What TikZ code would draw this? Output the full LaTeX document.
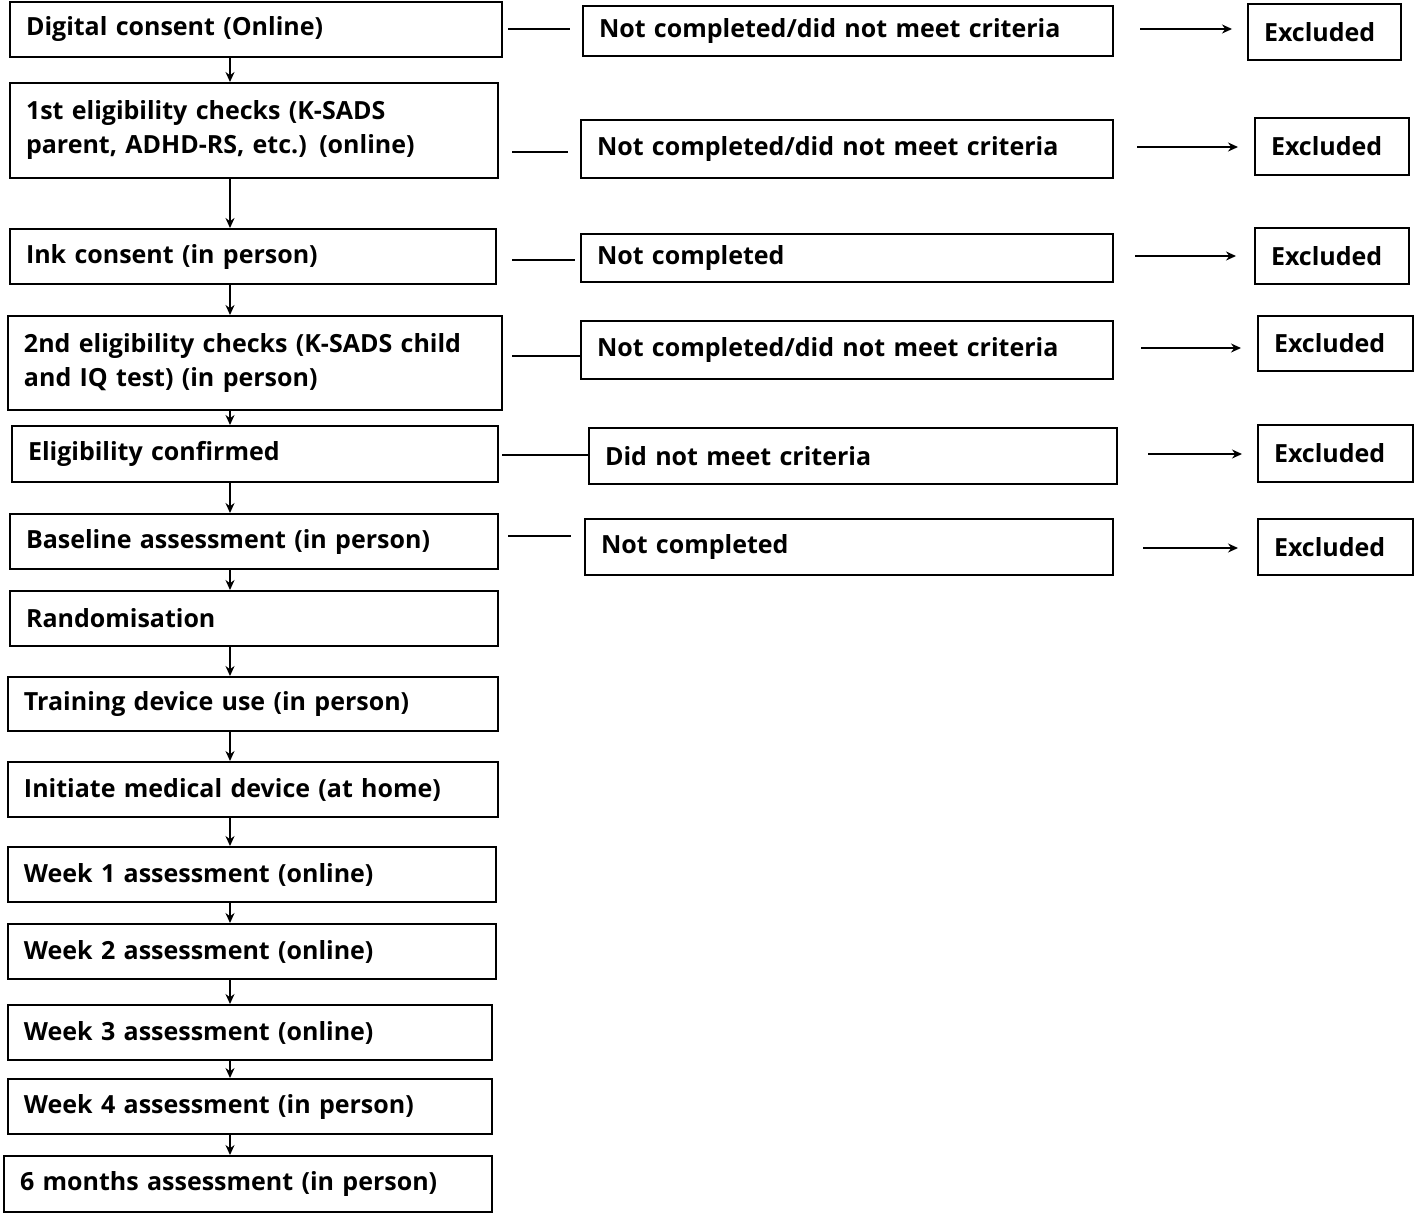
\documentclass[tikz,border=0pt]{standalone}
\usepackage{fontspec}
\setmainfont{Open Sans}
\usetikzlibrary{arrows.meta}
\tikzset{box/.style={draw,line width=1pt,inner xsep=8pt,inner ysep=0pt,align=left,font=\bfseries\fontsize{12.5}{17}\selectfont},
 conn/.style={line width=0.8pt},
 arr/.style={line width=0.8pt,-{Stealth[length=5pt,width=4.5pt]}}}
\newcommand\bx[6]{%
 \pgfmathsetmacro\bw{(#4-#2)*0.5}\pgfmathsetmacro\bh{(#5-#3)*0.5}\pgfmathsetmacro\tw{\bw-16}%
 \node[box,minimum width=\bw pt,minimum height=\bh pt,text width=\tw pt] (#1) at ({(#2+#4)/2},{(#3+#5)/2}) {#6};}
\begin{document}
\begin{tikzpicture}[x=0.5pt,y=-0.5pt]
\useasboundingbox (0,0) rectangle (1416,1216);
\bx{a1}{10}{2}{502}{57}{Digital consent (Online)}
\bx{a2}{10}{83}{498}{178}{1st eligibility checks (K-SADS\\parent, ADHD-RS, etc.) (online)}
\bx{a3}{10}{229}{496}{284}{Ink consent (in person)}
\bx{a4}{8}{316}{502}{410}{2nd eligibility checks (K-SADS child\\and IQ test) (in person)}
\bx{a5}{12}{426}{498}{482}{Eligibility confirmed}
\bx{a6}{10}{514}{498}{569}{Baseline assessment (in person)}
\bx{a7}{10}{591}{498}{646}{Randomisation}
\bx{a8}{8}{677}{498}{731}{Training device use (in person)}
\bx{a9}{8}{762}{498}{817}{Initiate medical device (at home)}
\bx{a10}{8}{847}{496}{902}{Week 1 assessment (online)}
\bx{a11}{8}{924}{496}{979}{Week 2 assessment (online)}
\bx{a12}{8}{1005}{492}{1060}{Week 3 assessment (online)}
\bx{a13}{8}{1079}{492}{1134}{Week 4 assessment (in person)}
\bx{a14}{4}{1156}{492}{1212}{6 months assessment (in person)}
\foreach \i/\j in {1/2,2/3,3/4,4/5,5/6,6/7,7/8,8/9,9/10,10/11,11/12,12/13,13/14}
  \draw[arr] (a\i.south -| 230,0) -- (a\j.north -| 230,0);
\bx{m1}{583}{6}{1113}{56}{Not completed/did not meet criteria}
\bx{m2}{581}{120}{1113}{178}{Not completed/did not meet criteria}
\bx{m3}{581}{234}{1113}{282}{Not completed}
\bx{m4}{581}{321}{1113}{379}{Not completed/did not meet criteria}
\bx{m5}{589}{428}{1117}{484}{Did not meet criteria}
\bx{m6}{585}{519}{1113}{575}{Not completed}
\bx{e1}{1248}{4}{1401}{60}{Excluded}
\bx{e2}{1255}{118}{1409}{175}{Excluded}
\bx{e3}{1255}{228}{1409}{284}{Excluded}
\bx{e4}{1258}{316}{1413}{371}{Excluded}
\bx{e5}{1258}{425}{1413}{482}{Excluded}
\bx{e6}{1258}{519}{1413}{575}{Excluded}
\foreach \i/\xa/\xb/\y in {1/508/570/29,2/512/568/152,3/512/575/260,4/512/581/356,5/502/589/455,6/508/571/536}
  {\coordinate (l\i a) at (\xa,\y); \coordinate (l\i b) at (\xb,\y); \draw[conn] (l\i a) -- (l\i b);}
\foreach \i/\xa/\xb/\y in {1/1140/1232/29,2/1137/1238/147,3/1135/1236/256,4/1141/1241/348,5/1148/1242/454,6/1143/1238/548}
  {\coordinate (r\i a) at (\xa,\y); \coordinate (r\i b) at (\xb,\y); \draw[arr] (r\i a) -- (r\i b);}
\end{tikzpicture}
\end{document}
